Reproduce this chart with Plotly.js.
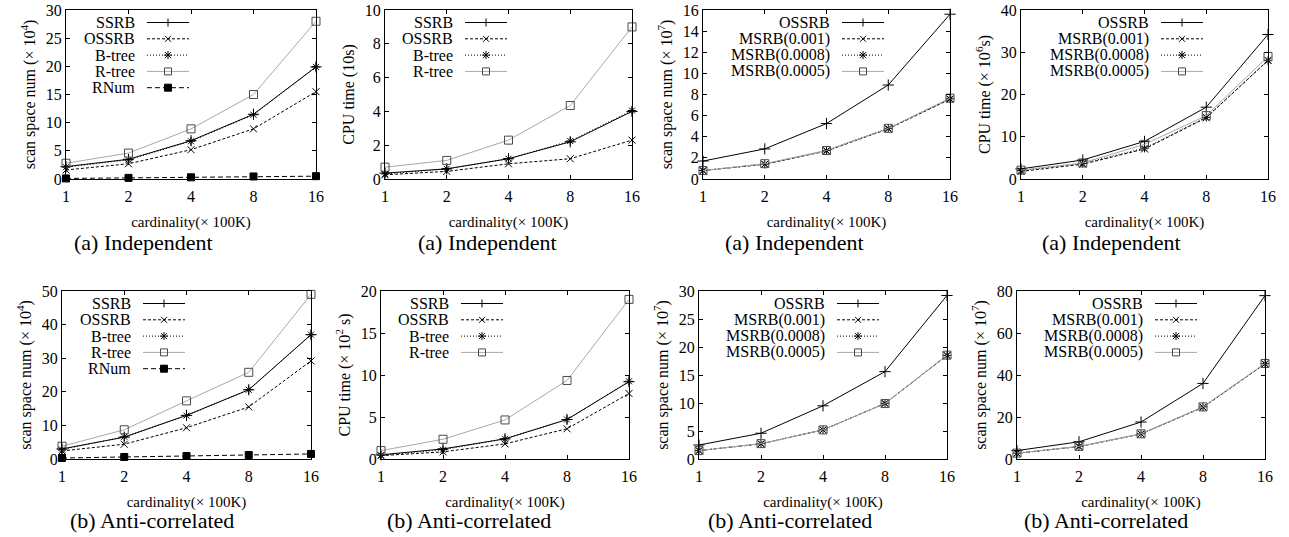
<!DOCTYPE html>
<html><head><meta charset="utf-8">
<script src="https://cdn.plot.ly/plotly-3.0.1.min.js"></script>
<style>html,body{margin:0;padding:0;background:#fff}#chart{width:1289px;height:537px}</style>
</head><body><div id="chart"></div>
<script>
const W = 1289, H = 537;
const cardinality = [1, 2, 4, 8, 16];
const cardinalityLabels = ['1', '2', '4', '8', '16'];

// (a) Independent — scan space num (x10^4)
const indScanSSRB  = [2.2, 3.5, 6.8, 11.5, 19.9];
const indScanOSSRB = [1.6, 2.7, 5.2, 8.9, 15.5];
const indScanBtree = [2.1, 3.4, 6.7, 11.4, 19.9];
const indScanRtree = [2.8, 4.6, 8.9, 15.0, 28.0];
const indScanRNum  = [0.1, 0.2, 0.3, 0.45, 0.5];
// (a) Independent — CPU time (10s)
const indCpuSSRB  = [0.35, 0.6, 1.2, 2.2, 4.0];
const indCpuOSSRB = [0.25, 0.45, 0.9, 1.2, 2.3];
const indCpuBtree = [0.3, 0.6, 1.2, 2.25, 4.05];
const indCpuRtree = [0.7, 1.1, 2.3, 4.35, 9.0];
// (a) Independent — scan space num (x10^7), MSRB
const indMScanOSSRB = [1.7, 2.85, 5.25, 8.9, 15.6];
const indMScan001   = [0.8, 1.4, 2.65, 4.75, 7.55];
const indMScan0008  = [0.8, 1.4, 2.7, 4.8, 7.6];
const indMScan0005  = [0.8, 1.45, 2.7, 4.8, 7.65];
// (a) Independent — CPU time (x10^6 s), MSRB
const indMCpuOSSRB = [2.4, 4.5, 8.9, 17.0, 34.2];
const indMCpu001   = [1.8, 3.5, 7.1, 14.5, 28.1];
const indMCpu0008  = [2.0, 3.7, 7.3, 14.6, 28.0];
const indMCpu0005  = [2.1, 3.8, 8.2, 15.0, 29.0];
// (b) Anti-correlated — scan space num (x10^4)
const antiScanSSRB  = [3.0, 6.5, 13.0, 20.6, 37.0];
const antiScanOSSRB = [2.4, 4.4, 9.3, 15.5, 29.2];
const antiScanBtree = [2.8, 6.6, 12.9, 20.6, 37.0];
const antiScanRtree = [3.8, 8.7, 17.3, 25.8, 49.0];
const antiScanRNum  = [0.3, 0.6, 0.9, 1.2, 1.5];
// (b) Anti-correlated — CPU time (x10^2 s)
const antiCpuSSRB  = [0.5, 1.2, 2.4, 4.7, 9.2];
const antiCpuOSSRB = [0.4, 0.85, 1.8, 3.6, 7.8];
const antiCpuBtree = [0.45, 1.1, 2.4, 4.7, 9.25];
const antiCpuRtree = [1.0, 2.35, 4.65, 9.35, 19.0];
// (b) Anti-correlated — scan space num (x10^7), MSRB
const antiMScanOSSRB = [2.5, 4.6, 9.5, 15.6, 29.2];
const antiMScan001   = [1.5, 2.7, 5.2, 9.9, 18.5];
const antiMScan0008  = [1.5, 2.75, 5.2, 9.95, 18.5];
const antiMScan0005  = [1.5, 2.75, 5.2, 9.9, 18.55];
// (b) Anti-correlated — scan space num (x10^7), MSRB (second)
const antiMScan2OSSRB = [4.0, 8.2, 17.6, 36.0, 77.8];
const antiMScan2001   = [2.7, 5.9, 11.9, 24.6, 45.3];
const antiMScan20008  = [2.8, 6.0, 12.0, 24.8, 45.4];
const antiMScan20005  = [2.8, 6.0, 12.0, 24.8, 45.5];

const FONT = "'Liberation Serif', 'Times New Roman', serif";

const STY = {
  plus: {dash: 'solid',   color: '#000',    symbol: 'cross-thin-open', size: 8, mcolor: '#000'},
  x:    {dash: '3px,2px', color: '#000',    symbol: 'x-thin-open',     size: 7, mcolor: '#000'},
  star: {dash: '1px,2px', color: '#000',    symbol: 'asterisk-open',   size: 7, mcolor: '#000'},
  sq:   {dash: 'solid',   color: '#a8a8a8', symbol: 'square-open',     size: 8, mcolor: '#4a4a4a'},
  fsq:  {dash: '5px,3px', color: '#000',    symbol: 'square',          size: 7, mcolor: '#000'}
};

const XT = 'cardinality(× 100K)';
const panels = [
  {px: [66, 316], py: [10, 179], yr: [0, 30], dt: 5, yt: 'scan space num (× 10<sup>4</sup>)', cap: '(a) Independent', capx: 143, off: 71,
   s: [['SSRB', indScanSSRB, 'plus'], ['OSSRB', indScanOSSRB, 'x'], ['B-tree', indScanBtree, 'star'], ['R-tree', indScanRtree, 'sq'], ['RNum', indScanRNum, 'fsq']]},
  {px: [385, 632], py: [10, 179], yr: [0, 10], dt: 2, yt: 'CPU time (10s)', cap: '(a) Independent', capx: 487, off: 70,
   s: [['SSRB', indCpuSSRB, 'plus'], ['OSSRB', indCpuOSSRB, 'x'], ['B-tree', indCpuBtree, 'star'], ['R-tree', indCpuRtree, 'sq']]},
  {px: [703, 950], py: [10, 179], yr: [0, 16], dt: 2, yt: 'scan space num (× 10<sup>7</sup>)', cap: '(a) Independent', capx: 794, off: 129,
   s: [['OSSRB', indMScanOSSRB, 'plus'], ['MSRB(0.001)', indMScan001, 'x'], ['MSRB(0.0008)', indMScan0008, 'star'], ['MSRB(0.0005)', indMScan0005, 'sq']]},
  {px: [1021, 1268], py: [10, 179], yr: [0, 40], dt: 10, yt: 'CPU time (× 10<sup>6</sup>s)', cap: '(a) Independent', capx: 1111, off: 130,
   s: [['OSSRB', indMCpuOSSRB, 'plus'], ['MSRB(0.001)', indMCpu001, 'x'], ['MSRB(0.0008)', indMCpu0008, 'star'], ['MSRB(0.0005)', indMCpu0005, 'sq']]},
  {px: [62, 311], py: [291, 459], yr: [0, 50], dt: 10, yt: 'scan space num (× 10<sup>4</sup>)', cap: '(b) Anti-correlated', capx: 152, off: 71,
   s: [['SSRB', antiScanSSRB, 'plus'], ['OSSRB', antiScanOSSRB, 'x'], ['B-tree', antiScanBtree, 'star'], ['R-tree', antiScanRtree, 'sq'], ['RNum', antiScanRNum, 'fsq']]},
  {px: [381, 629], py: [291, 459], yr: [0, 20], dt: 5, yt: 'CPU time (× 10<sup>2</sup> s)', cap: '(b) Anti-correlated', capx: 469, off: 70,
   s: [['SSRB', antiCpuSSRB, 'plus'], ['OSSRB', antiCpuOSSRB, 'x'], ['B-tree', antiCpuBtree, 'star'], ['R-tree', antiCpuRtree, 'sq']]},
  {px: [699, 947], py: [291, 459], yr: [0, 30], dt: 5, yt: 'scan space num (× 10<sup>7</sup>)', cap: '(b) Anti-correlated', capx: 790, off: 128,
   s: [['OSSRB', antiMScanOSSRB, 'plus'], ['MSRB(0.001)', antiMScan001, 'x'], ['MSRB(0.0008)', antiMScan0008, 'star'], ['MSRB(0.0005)', antiMScan0005, 'sq']]},
  {px: [1017, 1265], py: [291, 459], yr: [0, 80], dt: 20, yt: 'scan space num (× 10<sup>7</sup>)', cap: '(b) Anti-correlated', capx: 1106, off: 128,
   s: [['OSSRB', antiMScan2OSSRB, 'plus'], ['MSRB(0.001)', antiMScan2001, 'x'], ['MSRB(0.0008)', antiMScan20008, 'star'], ['MSRB(0.0005)', antiMScan20005, 'sq']]}
];

const PX = v => v / W;
const PY = v => 1 - v / H;

const traces = [];
const shapes = [];
const annotations = [];
const layout = {
  width: W, height: H, margin: {l: 0, r: 0, t: 0, b: 0},
  paper_bgcolor: '#fff', plot_bgcolor: '#fff', showlegend: false,
  font: {family: FONT, color: '#000', size: 16},
  shapes: shapes, annotations: annotations
};

function seg(x0, y0, x1, y1, color, dash, width) {
  shapes.push({type: 'line', xref: 'paper', yref: 'paper', x0: PX(x0), y0: PY(y0), x1: PX(x1), y1: PY(y1),
    line: {color: color, width: width || 1, dash: dash || 'solid'}});
}
function legendMarker(kind, cx, cy, color) {
  const r = 3;
  if (kind === 'plus' || kind === 'star') { seg(cx - 4, cy, cx + 4, cy, color); seg(cx, cy - 4, cx, cy + 4, color); }
  if (kind === 'x' || kind === 'star') { seg(cx - r, cy - r, cx + r, cy + r, color); seg(cx - r, cy + r, cx + r, cy - r, color); }
  if (kind === 'sq' || kind === 'fsq') {
    shapes.push({type: 'rect', xref: 'paper', yref: 'paper', x0: PX(cx - 3.5), x1: PX(cx + 3.5), y0: PY(cy + 3.5), y1: PY(cy - 3.5),
      line: {color: color, width: 1}, fillcolor: kind === 'fsq' ? color : 'rgba(0,0,0,0)'});
  }
}

panels.forEach((p, i) => {
  const k = i + 1;
  const xa = 'xaxis' + (k === 1 ? '' : k), ya = 'yaxis' + (k === 1 ? '' : k);
  const xr = 'x' + (k === 1 ? '' : k), yr = 'y' + (k === 1 ? '' : k);
  layout[xa] = {
    domain: [PX(p.px[0]), PX(p.px[1])], anchor: yr, type: 'log', range: [0, Math.log10(16)],
    tickmode: 'array', tickvals: cardinality, ticktext: cardinalityLabels,
    showline: true, mirror: 'ticks', linecolor: '#000', linewidth: 1,
    ticks: 'inside', ticklen: 4, tickcolor: '#000', showgrid: false, zeroline: false,
    tickfont: {family: FONT, size: 16}, ticklabelstandoff: 3,
    title: {text: XT, font: {family: FONT, size: 15}, standoff: 12}
  };
  layout[ya] = {
    domain: [PY(p.py[1]), PY(p.py[0])], anchor: xr, range: p.yr, dtick: p.dt, tick0: 0,
    showline: true, mirror: 'ticks', linecolor: '#000', linewidth: 1,
    ticks: 'inside', ticklen: 4, tickcolor: '#000', showgrid: false, zeroline: false,
    tickfont: {family: FONT, size: 16},
    title: {text: p.yt, font: {family: FONT, size: 16}, standoff: 6}
  };
  annotations.push({xref: 'paper', yref: 'paper', x: PX(p.capx), y: PY(p.py[0] < 100 ? 242 : 520),
    xanchor: 'center', yanchor: 'middle', showarrow: false, text: p.cap,
    font: {family: FONT, size: 22, color: '#000'}});
  const textRight = p.px[0] + p.off;
  p.s.forEach((ser, j) => {
    const st = STY[ser[2]];
    traces.push({
      type: 'scatter', mode: 'lines+markers', name: ser[0], x: cardinality, y: ser[1],
      xaxis: xr, yaxis: yr, cliponaxis: false,
      line: {color: st.color, width: 1, dash: st.dash},
      marker: {symbol: st.symbol, size: st.size, color: st.mcolor, line: {color: st.mcolor, width: 1}}
    });
    const ry = p.py[0] + 12.5 + j * 16.3;
    annotations.push({xref: 'paper', yref: 'paper', x: PX(textRight), y: PY(ry), xanchor: 'right', yanchor: 'middle',
      showarrow: false, text: ser[0], font: {family: FONT, size: 16, color: '#000'}});
    seg(textRight + 10, ry, textRight + 52, ry, st.color, st.dash);
    legendMarker(ser[2], textRight + 31, ry, st.mcolor);
  });
});

Plotly.newPlot('chart', traces, layout, {displayModeBar: false, staticPlot: true});
</script></body></html>
